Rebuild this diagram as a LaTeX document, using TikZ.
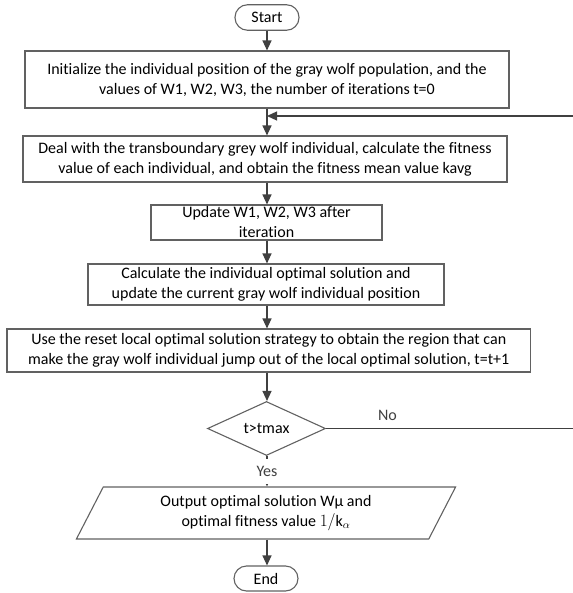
\documentclass[tikz,border=0pt]{standalone}
\usepackage{fontspec}
\setmainfont{Carlito}[Ligatures=CommonOff]
\usepackage{tikz}
\usetikzlibrary{arrows.meta}
\usetikzlibrary{shapes.geometric}
\tikzset{>={Triangle[length=10,width=9]}}
\usepackage{xcolor}
\colorlet{mydarkgray}{black!75}
\colorlet{mygray}{black!62}

\begin{document}
\begin{tikzpicture}[x=1pt,y=1pt,
    arrow/.style={->,line width=1.2,mydarkgray},
    box/.style={draw=mygray,line width=1.1,align=center,inner xsep=2,inner ysep=0,font=\fontsize{16}{20}\selectfont},
    term/.style={box,rounded corners=12.5,inner xsep=8},
    test/.style={box,diamond,aspect=2,inner sep=0},
    io/.style={box,trapezium,trapezium left angle=63.4,trapezium right angle=116.6,trapezium stretches=true},
    tag/.style={font=\fontsize{16}{18}\selectfont}]
    \useasboundingbox (0,0) rectangle (572,-593);

    \coordinate (axis) at (267,0);
    \coordinate (rim) at (577,0);

    \node[term,minimum width=64,minimum height=25.5] (start) at (267,-17.5) {Start};
    \node[box,minimum width=484,minimum height=57] (init) at (267,-79.5)
        {Initialize the individual position of the gray wolf population, and the\\values of W1, W2, W3, the number of iterations t=0};
    \node[box,minimum width=484,minimum height=46] (deal) at (265,-159)
        {Deal with the transboundary grey wolf individual, calculate the fitness\\value of each individual, and obtain the fitness mean value kavg};
    \node[box,minimum width=231,minimum height=35] (update) at (266.5,-222.5)
        {Update W1, W2, W3 after\\iteration};
    \node[box,minimum width=356,minimum height=41] (calc) at (266,-284.5)
        {Calculate the individual optimal solution and\\update the current gray wolf individual position};
    \node[box,minimum width=523.5,minimum height=43] (reset) at (268.75,-350.5)
        {Use the reset local optimal solution strategy to obtain the region that can\\make the gray wolf individual jump out of the local optimal solution, t=t+1};
    \node[test,minimum width=118,minimum height=54] (check) at (266.5,-428.5) {t>tmax};
    \node[io,minimum width=380,minimum height=52] (output) at (266,-513)
        {Output optimal solution Wµ and\\optimal fitness value $1/\mathrm{k}_\alpha$};
    \node[term,minimum width=64,minimum height=25] (end) at (266,-578.5) {End};

    \draw[arrow] (start.south -| axis) -- (init.north -| axis);
    \draw[arrow] (init.south -| axis) -- (deal.north -| axis);
    \draw[arrow] (deal.south -| axis) -- (update.north -| axis);
    \draw[arrow] (update.south -| axis) -- (calc.north -| axis);
    \draw[arrow] (calc.south -| axis) -- (reset.north -| axis);
    \draw[arrow] (reset.south -| axis) -- (check.north -| axis);
    \draw[arrow] (check.south -| axis) -- (output.north -| axis)
        node[tag,midway,fill=white,inner sep=0,minimum height=25,minimum width=30] (yes) {Yes};
    \draw[arrow] (output.south -| axis) -- (end.north -| axis);

    \coordinate (merge) at (267,-116);
    \draw[arrow] (check.east) -- node[tag,pos=0.245,above=4] (no) {No}
        (check.east -| rim) |- (merge);

    \end{tikzpicture}
\end{document}
